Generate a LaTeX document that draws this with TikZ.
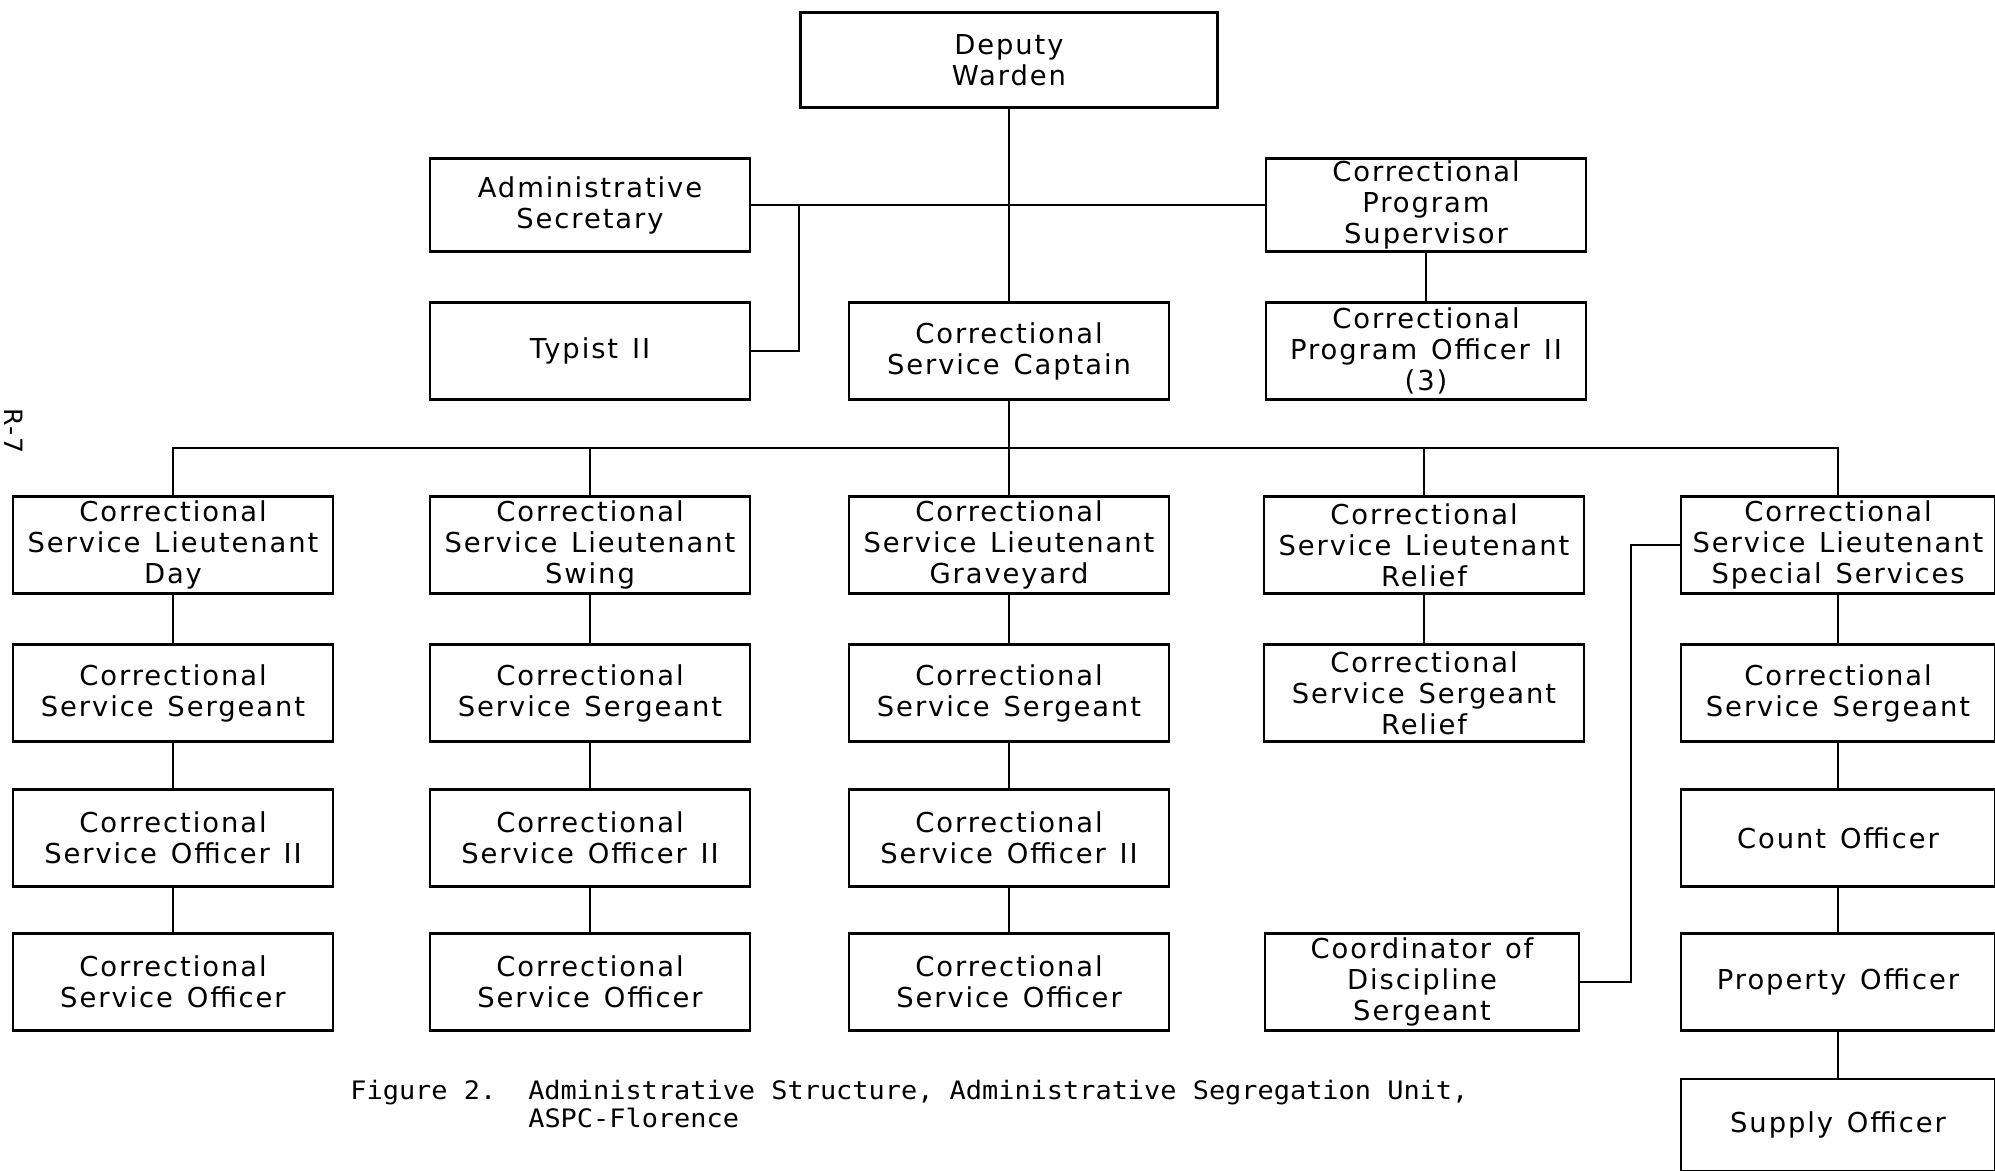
\documentclass[tikz,border=0pt]{standalone}
\usepackage{fontspec}
\setmainfont{DejaVu Sans}[LetterSpace=7, WordSpace=1.3]
\newfontfamily\capfont{DejaVu Sans Mono}[FakeStretch=1.06]

\begin{document}
\begin{tikzpicture}[auto, x=0.5pt, y=-0.5pt,
    office/.style ={rectangle, draw, line width=1.3pt, minimum width=160pt,
      minimum height=48.5pt, inner sep=1pt, align=center,
      font=\fontsize{13.7}{15.5}\selectfont},
    link/.style ={line width=1.3pt}]
   \useasboundingbox (0,0) rectangle (1995,1171);

   \node[office, minimum width=208.5pt, minimum height=47.5pt] (DW) at (1009,60) {Deputy\\Warden};
   \node[office, minimum height=46.5pt] (AS) at (590,205) {Administrative\\Secretary};
   \node[office] (TY) at (590,351) {Typist II};
   \node[office] (CA) at (1009,351) {Correctional\\Service Captain};
   \node[office, minimum height=46.5pt] (PS) at (1426,205) {Correctional\\Program\\Supervisor};
   \node[office] (PO) at (1426,351) {Correctional\\Program Officer II\\(3)};

   \node[office] (L1) at (173,545)  {Correctional\\Service Lieutenant\\Day};
   \node[office] (L2) at (590,545)  {Correctional\\Service Lieutenant\\Swing};
   \node[office] (L3) at (1009,545) {Correctional\\Service Lieutenant\\Graveyard};
   \node[office] (L4) at (1424,545) {Correctional\\Service Lieutenant\\Relief};
   \node[office, minimum width=157pt] (L5) at (1838,545) {Correctional\\Service Lieutenant\\Special Services};

   \node[office] (S1) at (173,693)  {Correctional\\Service Sergeant};
   \node[office] (S2) at (590,693)  {Correctional\\Service Sergeant};
   \node[office] (S3) at (1009,693) {Correctional\\Service Sergeant};
   \node[office] (S4) at (1424,693) {Correctional\\Service Sergeant\\Relief};
   \node[office, minimum width=157pt] (S5) at (1838,693) {Correctional\\Service Sergeant};

   \node[office] (O1) at (173,838)  {Correctional\\Service Officer II};
   \node[office] (O2) at (590,838)  {Correctional\\Service Officer II};
   \node[office] (O3) at (1009,838) {Correctional\\Service Officer II};
   \node[office, minimum width=157pt] (CO) at (1838,838) {Count Officer};

   \node[office] (C1) at (173,982)  {Correctional\\Service Officer};
   \node[office] (C2) at (590,982)  {Correctional\\Service Officer};
   \node[office] (C3) at (1009,982) {Correctional\\Service Officer};
   \node[office, minimum width=157pt] (CD) at (1422,982) {Coordinator of\\Discipline\\Sergeant};
   \node[office, minimum width=157pt] (PR) at (1838,982) {Property Officer};
   \node[office, minimum width=157pt, minimum height=46pt] (SU) at (1838,1125) {Supply Officer};

   \coordinate (bus) at (1009,448);
   \coordinate (brk) at (799,205);
   \coordinate (cdx) at (1631,760);

   \draw[link] (AS) to (PS);
   \draw[link] (DW) to (CA);
   \draw[link] (TY.east) -| (brk);
   \draw[link] (PS) to (PO);
   \draw[link] (CA) to (bus);
   \draw[link] (bus) to (L3);
   \foreach \n in {L1,L2,L4,L5}
      \draw[link] (bus) -| (\n);
   \foreach \a/\b in {L1/S1,S1/O1,O1/C1,L2/S2,S2/O2,O2/C2,L3/S3,S3/O3,O3/C3,
                      L4/S4,L5/S5,S5/CO,CO/PR,PR/SU}
      \draw[link] (\a) to (\b);
   \draw[link] (CD.east) -| (cdx) |- (L5.west);

   \node[anchor=base west, inner sep=0pt, font=\capfont\fontsize{12.7}{14}\selectfont] (cap) at (350,1099)
      {\begin{tabular}[t]{@{}l@{\hspace{16pt}}l@{}}Figure 2. & Administrative Structure, Administrative Segregation Unit,\\
        & ASPC-Florence\end{tabular}};
   \node[anchor=center, rotate=-90, inner sep=0pt, font=\fontsize{12.6}{16}\selectfont] (pg) at (14,431) {R-7};

 \end{tikzpicture}
\end{document}
